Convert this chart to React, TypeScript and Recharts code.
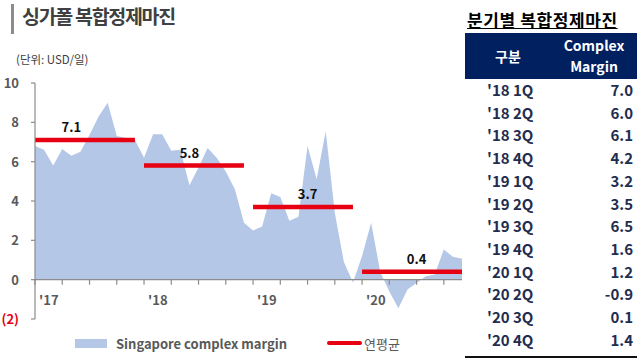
import React from "react";
import {
  ComposedChart,
  Area,
  Line,
  XAxis,
  YAxis,
  ReferenceLine,
} from "recharts";

// monthly Singapore complex margin, Jan 2017 - Dec 2020 (USD/bbl)
const months = [
  "17-01", "17-02", "17-03", "17-04", "17-05", "17-06", "17-07", "17-08", "17-09", "17-10", "17-11", "17-12",
  "18-01", "18-02", "18-03", "18-04", "18-05", "18-06", "18-07", "18-08", "18-09", "18-10", "18-11", "18-12",
  "19-01", "19-02", "19-03", "19-04", "19-05", "19-06", "19-07", "19-08", "19-09", "19-10", "19-11", "19-12",
  "20-01", "20-02", "20-03", "20-04", "20-05", "20-06", "20-07", "20-08", "20-09", "20-10", "20-11", "20-12",
];
const margins = [
  6.8, 6.6, 5.8, 6.65, 6.3, 6.5, 7.35, 8.3, 9.0, 7.3, 7.2, 7.1,
  6.2, 7.4, 7.4, 6.55, 6.6, 4.8, 5.7, 6.7, 6.2, 5.5, 4.6, 2.9,
  2.5, 2.7, 4.4, 4.2, 3.0, 3.2, 6.8, 5.1, 7.55, 3.4, 0.9, -0.15,
  1.2, 2.9, 0.4, -0.6, -1.45, -0.5, -0.17, 0.17, 0.26, 1.54, 1.16, 1.06,
];
const yearLabels = ["'17", "'18", "'19", "'20"];
const yearAvgs = [7.1, 5.8, 3.7, 0.4];
const avgLabelMonth = [4, 5, 6, 6];
const yTicks = [-2, 0, 2, 4, 6, 8, 10];

const quarters = [
  "'18 1Q", "'18 2Q", "'18 3Q", "'18 4Q",
  "'19 1Q", "'19 2Q", "'19 3Q", "'19 4Q",
  "'20 1Q", "'20 2Q", "'20 3Q", "'20 4Q",
];
const quarterValues = ["7.0", "6.0", "6.1", "4.2", "3.2", "3.5", "6.5", "1.6", "1.2", "-0.9", "0.1", "1.4"];

const data = months.map((m, i) => {
  const row: Record<string, any> = { month: m, margin: margins[i] };
  const y = Math.floor(i / 12);
  row["avg" + y] = yearAvgs[y];
  return row;
});

const FONT = "'Noto Sans CJK KR', 'Noto Sans', sans-serif";
const GREY = "#595959";
const RED = "#e60012";
const CHART_H = 330;
const M_TOP = 83;
const M_BOTTOM = 10;
const PLOT_H = CHART_H - M_TOP - M_BOTTOM - 1;
const Y_MIN = yTicks[0];
const Y_MAX = yTicks[yTicks.length - 1];
const quarterTicks = months.filter((_, i) => i % 3 === 0);

const XTick = (props: any) => {
  const { x, y, payload } = props;
  // axis sits at value 0, not at the bottom of the plot
  const zeroY = y - (PLOT_H * (0 - Y_MIN)) / (Y_MAX - Y_MIN);
  const idx = months.indexOf(payload.value);
  return (
    <g>
      <line x1={x} x2={x} y1={zeroY} y2={zeroY + 5} stroke="#8c8c8c" strokeWidth={1.2} />
      {idx % 12 === 0 && (
        <text x={x + 4} y={zeroY + 25} fill={GREY} fontSize={13} fontWeight={700} fontFamily={FONT}>
          {yearLabels[idx / 12]}
        </text>
      )}
    </g>
  );
};

const YTick = (props: any) => {
  const { x, y, payload } = props;
  const v = payload.value;
  return (
    <text
      x={x}
      y={y + 5}
      textAnchor="end"
      fill={v < 0 ? RED : GREY}
      fontSize={13}
      fontWeight={700}
      fontFamily={FONT}
    >
      {v < 0 ? `(${-v})` : v}
    </text>
  );
};

const avgLabel = (yr: number) => (props: any) => {
  const { x, y, index } = props;
  if (index !== yr * 12 + avgLabelMonth[yr]) return null;
  return (
    <text x={x} y={y - 8} textAnchor="middle" fill="#111" fontSize={13} fontWeight={700} fontFamily={FONT}>
      {yearAvgs[yr].toFixed(1)}
    </text>
  );
};

export default function App() {
  return (
    <div
      style={{
        position: "absolute",
        left: 0,
        top: 0,
        width: 640,
        height: 360,
        background: "#fff",
        fontFamily: FONT,
        overflow: "hidden",
      }}
    >
      <div style={{ position: "absolute", left: 11, top: 4, width: 3, height: 30, background: "#8c8c8c" }} />
      <div
        style={{
          position: "absolute",
          left: 22,
          top: 1,
          fontSize: 19.5,
          fontWeight: 700,
          color: "#404040",
          letterSpacing: -1.3,
          whiteSpace: "nowrap",
        }}
      >
        싱가폴 복합정제마진
      </div>
      <div style={{ position: "absolute", left: 16, top: 51, fontSize: 11.5, color: "#404040", whiteSpace: "nowrap" }}>
        (단위: USD/일)
      </div>

      <div style={{ position: "absolute", left: 0, top: 0 }}>
        <ComposedChart
          width={470}
          height={CHART_H}
          data={data}
          margin={{ top: M_TOP, right: 8, left: 0, bottom: M_BOTTOM }}
        >
          <XAxis
            dataKey="month"
            ticks={quarterTicks}
            interval={0}
            axisLine={false}
            tickLine={false}
            tickSize={0}
            tickMargin={0}
            height={1}
            tick={<XTick />}
          />
          <YAxis
            width={35}
            domain={[Y_MIN, Y_MAX]}
            ticks={yTicks}
            interval={0}
            axisLine={{ stroke: "#8c8c8c", strokeWidth: 1.2 }}
            tickLine={{ stroke: "#8c8c8c", strokeWidth: 1.2 }}
            tickSize={4}
            tickMargin={12}
            tick={<YTick />}
          />
          <Area
            dataKey="margin"
            type="linear"
            fill="#b4c7e7"
            fillOpacity={1}
            stroke="none"
            isAnimationActive={false}
          />
          <ReferenceLine y={0} stroke="#8c8c8c" strokeWidth={1.2} />
          {yearAvgs.map((_, yr) => (
            <Line
              key={yr}
              dataKey={"avg" + yr}
              stroke={RED}
              strokeWidth={4.5}
              dot={false}
              activeDot={false}
              label={avgLabel(yr)}
              isAnimationActive={false}
            />
          ))}
        </ComposedChart>
      </div>

      {/* legend */}
      <div style={{ position: "absolute", left: 75, top: 339, width: 32, height: 9, background: "#b4c7e7" }} />
      <div
        style={{ position: "absolute", left: 116, top: 334, fontSize: 13, fontWeight: 700, color: GREY, whiteSpace: "nowrap" }}
      >
        Singapore complex margin
      </div>
      <div style={{ position: "absolute", left: 327, top: 341, width: 35, height: 4, background: RED, borderRadius: 2 }} />
      <div style={{ position: "absolute", left: 364, top: 334, fontSize: 13, color: GREY, whiteSpace: "nowrap" }}>
        연평균
      </div>

      {/* quarterly table */}
      <div
        style={{
          position: "absolute",
          left: 467,
          top: 7,
          fontSize: 17,
          fontWeight: 700,
          color: "#000",
          textDecoration: "underline",
          whiteSpace: "nowrap",
          letterSpacing: 0.6,
        }}
      >
        분기별 복합정제마진
      </div>
      <div
        style={{
          position: "absolute",
          left: 465,
          top: 33,
          width: 172,
          height: 46,
          background: "#002060",
          color: "#fff",
          fontWeight: 700,
          fontSize: 14,
        }}
      >
        <div style={{ position: "absolute", left: 30, top: 13 }}>구분</div>
        <div style={{ position: "absolute", left: 90, top: 2, width: 78, textAlign: "center", lineHeight: "21px" }}>
          Complex
          <br />
          Margin
        </div>
      </div>
      {quarters.map((q, i) => (
        <div
          key={q}
          style={{
            position: "absolute",
            left: 465,
            top: 79 + i * 22.7,
            width: 170,
            height: 22.7,
            lineHeight: "22.7px",
            fontSize: 15,
            fontWeight: 700,
            color: "#1f2d4f",
          }}
        >
          <span style={{ position: "absolute", left: 22 }}>{q}</span>
          <span style={{ position: "absolute", right: 2 }}>{quarterValues[i]}</span>
        </div>
      ))}
      <div style={{ position: "absolute", left: 465, top: 356, width: 172, height: 1.5, background: "#111" }} />
    </div>
  );
}
